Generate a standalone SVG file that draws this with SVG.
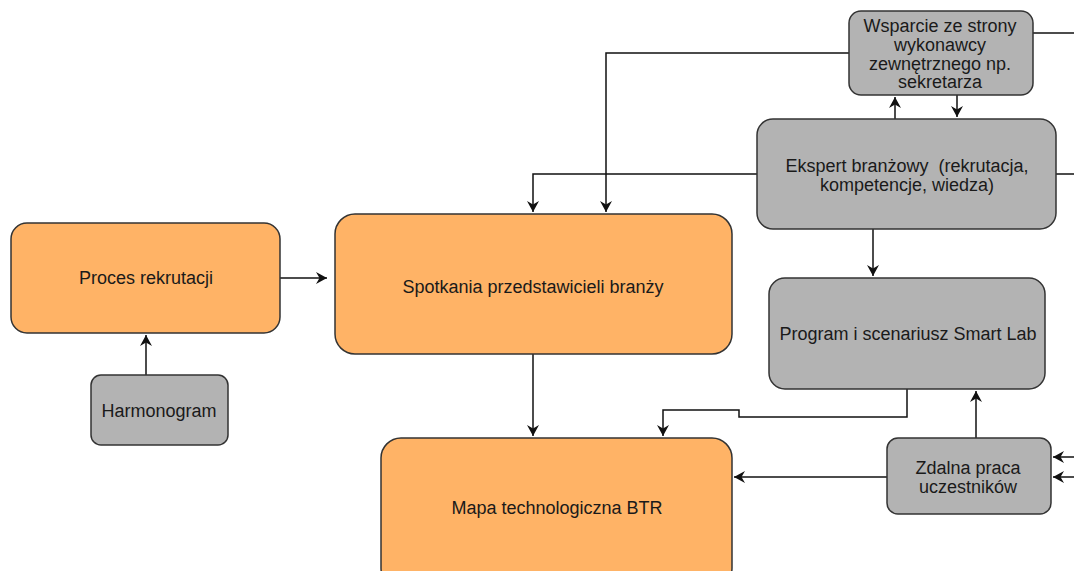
<svg xmlns="http://www.w3.org/2000/svg" width="1074" height="571" viewBox="0 0 1074 571">
<style>
.o{fill:#FFB366;stroke:#333;stroke-width:1.5}
.g{fill:#B3B3B3;stroke:#333;stroke-width:1.5}
.t{font-family:"Liberation Sans",Arial,sans-serif;font-size:18px;fill:#1a1a1a;text-anchor:middle}
.c{fill:none;stroke:#111;stroke-width:1.5}
.a{marker-end:url(#arr)}
</style>
<defs>
<marker id="arr" markerUnits="userSpaceOnUse" markerWidth="13" markerHeight="12" refX="11" refY="6" orient="auto">
<path d="M0,0 L11,6 L0,12 L3.5,6 Z" fill="#111"/>
</marker>
</defs>
<rect width="1074" height="571" fill="#fff"/>
<g id="connectors">
<path class="c a" d="M146,375 V335"/>
<path class="c a" d="M280,278 H327"/>
<path class="c a" d="M533,354 V436"/>
<path class="c a" d="M757,174 H533 V212"/>
<path class="c a" d="M849,53 H606 V212"/>
<path class="c" d="M1033,33 H1074"/>
<path class="c" d="M1056,174 H1074"/>
<path class="c a" d="M895,119 V97"/>
<path class="c a" d="M957,95 V117"/>
<path class="c a" d="M873,229 V276"/>
<path class="c a" d="M907,389 V417 H739 V410 H663 V436"/>
<path class="c a" d="M976,438 V391"/>
<path class="c a" d="M887,477 H734"/>
<path class="c a" d="M1074,457 H1053"/>
<path class="c a" d="M1074,477 H1053"/>
</g>
<g id="proces"><rect class="o" x="11" y="223" width="269" height="110" rx="16"/><text class="t" x="146" y="284">Proces rekrutacji</text></g>
<g id="harmonogram"><rect class="g" x="91" y="375" width="137" height="70" rx="10"/><text class="t" x="159" y="417">Harmonogram</text></g>
<g id="spotkania"><rect class="o" x="335" y="214" width="397" height="140" rx="20"/><text class="t" x="533" y="293">Spotkania przedstawicieli branży</text></g>
<g id="mapa"><rect class="o" x="381" y="438" width="351" height="150" rx="20"/><text class="t" x="557" y="514">Mapa technologiczna BTR</text></g>
<g id="wsparcie"><rect class="g" x="849" y="11" width="184" height="84" rx="12"/><text class="t" x="940"><tspan x="940" y="32">Wsparcie ze strony</tspan><tspan x="940" y="51">wykonawcy</tspan><tspan x="940" y="70">zewnętrznego np.</tspan><tspan x="940" y="88">sekretarza</tspan></text></g>
<g id="ekspert"><rect class="g" x="757" y="119" width="299" height="110" rx="16"/><text class="t" x="907"><tspan x="907" y="172" xml:space="preserve">Ekspert branżowy  (rekrutacja,</tspan><tspan x="907" y="191">kompetencje, wiedza)</tspan></text></g>
<g id="program"><rect class="g" x="769" y="278" width="276" height="111" rx="16"/><text class="t" x="908" y="340">Program i scenariusz Smart Lab</text></g>
<g id="zdalna"><rect class="g" x="887" y="438" width="164" height="76" rx="11"/><text class="t" x="968"><tspan x="968" y="474">Zdalna praca</tspan><tspan x="968" y="493">uczestników</tspan></text></g>
</svg>
